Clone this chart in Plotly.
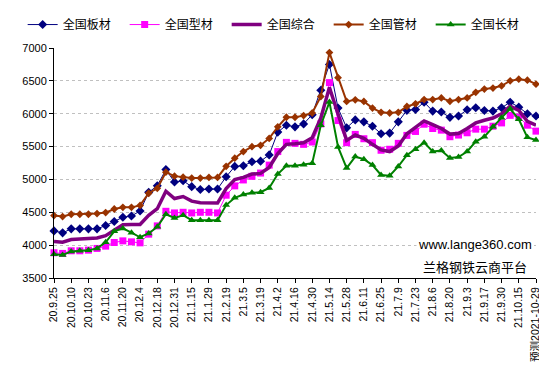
import plotly.graph_objects as go

dates = ["20.9.25", "20.10.2", "20.10.10", "20.10.16", "20.10.23", "20.10.30", "20.11.6", "20.11.13",
         "20.11.20", "20.11.27", "20.12.4", "20.12.11", "20.12.18", "20.12.25", "20.12.31", "21.1.8",
         "21.1.15", "21.1.22", "21.1.29", "21.2.5", "21.2.19", "21.2.26", "21.3.5", "21.3.12",
         "21.3.19", "21.3.26", "21.4.2", "21.4.9", "21.4.16", "21.4.23", "21.4.30", "21.5.7",
         "21.5.14", "21.5.21", "21.5.28", "21.6.4", "21.6.11", "21.6.18", "21.6.25", "21.7.2",
         "21.7.9", "21.7.16", "21.7.23", "21.7.30", "21.8.6", "21.8.13", "21.8.20", "21.8.27",
         "21.9.3", "21.9.10", "21.9.17", "21.9.24", "21.9.30", "21.10.9", "21.10.15", "21.10.22",
         "预测2021-10-29"]

ban = [4217, 4187, 4248, 4248, 4248, 4248, 4298, 4359, 4424, 4444, 4520, 4803, 4904, 5150, 4960,
       4980, 4890, 4846, 4855, 4855, 5040, 5198, 5208, 5268, 5278, 5373, 5720, 5825, 5800, 5845,
       5986, 6358, 6750, 6086, 5785, 5906, 5876, 5810, 5695, 5705, 5876, 6051, 6065, 6175, 6040,
       6025, 5945, 5965, 6060, 6090, 6050, 6040, 6090, 6175, 6100, 6000, 5965]
xing = [3884, 3874, 3914, 3914, 3924, 3950, 3985, 4040, 4065, 4050, 4035, 4167, 4293, 4515, 4490,
        4500, 4490, 4500, 4500, 4490, 4760, 4902, 4992, 5047, 5097, 5218, 5424, 5564, 5549, 5534,
        5569, 5845, 6473, 5896, 5559, 5685, 5619, 5559, 5444, 5459, 5549, 5670, 5730, 5840, 5775,
        5750, 5650, 5675, 5710, 5765, 5765, 5810, 5860, 5975, 5950, 5825, 5735]
zonghe = [4055, 4045, 4085, 4090, 4105, 4110, 4145, 4225, 4310, 4315, 4315, 4455, 4555, 4820, 4710,
          4740, 4670, 4645, 4640, 4640, 4860, 4997, 5032, 5082, 5092, 5183, 5394, 5534, 5544, 5559,
          5634, 5936, 6398, 6011, 5594, 5675, 5624, 5534, 5449, 5424, 5509, 5695, 5800, 5890, 5835,
          5775, 5690, 5700, 5775, 5860, 5900, 5935, 6000, 6115, 6050, 5885, 5825]
guan = [4450, 4435, 4470, 4470, 4470, 4480, 4495, 4550, 4575, 4575, 4605, 4790, 4865, 5110, 5050,
        5035, 5020, 5020, 5030, 5030, 5200, 5323, 5424, 5499, 5519, 5624, 5800, 5946, 5946, 5971,
        6011, 6262, 6930, 6548, 6187, 6212, 6187, 6086, 6021, 6011, 6021, 6111, 6150, 6215, 6215,
        6240, 6190, 6215, 6240, 6325, 6375, 6390, 6425, 6500, 6525, 6510, 6450]
chang = [3860, 3850, 3905, 3913, 3923, 3950, 4043, 4210, 4255, 4190, 4120, 4178, 4280, 4470, 4414,
         4455, 4380, 4380, 4380, 4380, 4610, 4721, 4771, 4796, 4806, 4871, 5082, 5208, 5208, 5223,
         5248, 5825, 6177, 5494, 5173, 5348, 5308, 5218, 5067, 5057, 5198, 5368, 5459, 5560, 5425,
         5440, 5325, 5340, 5425, 5575, 5650, 5800, 5940, 6075, 5915, 5640, 5600]

tick_labels = dates[::2]
y_ticks = [3500, 4000, 4500, 5000, 5500, 6000, 6500, 7000]

fig = go.Figure()
fig.add_trace(go.Scatter(x=dates, y=ban, name="全国板材", mode="lines+markers",
                         line=dict(color="#000080", width=1),
                         marker=dict(symbol="diamond", size=7, color="#000080"), cliponaxis=False))
fig.add_trace(go.Scatter(x=dates, y=xing, name="全国型材", mode="lines+markers",
                         line=dict(color="#FF00FF", width=1),
                         marker=dict(symbol="square", size=7, color="#FF00FF"), cliponaxis=False))
fig.add_trace(go.Scatter(x=dates, y=zonghe, name="全国综合", mode="lines",
                         line=dict(color="#800080", width=3.5), cliponaxis=False))
fig.add_trace(go.Scatter(x=dates, y=guan, name="全国管材", mode="lines+markers",
                         line=dict(color="#993300", width=2),
                         marker=dict(symbol="diamond", size=6, color="#993300"), cliponaxis=False))
fig.add_trace(go.Scatter(x=dates, y=chang, name="全国长材", mode="lines+markers",
                         line=dict(color="#008000", width=2),
                         marker=dict(symbol="triangle-up", size=7, color="#008000"), cliponaxis=False))

fig.add_annotation(text="www.lange360.com", xref="paper", yref="paper", x=0.995, y=0.145,
                   xanchor="right", yanchor="middle", showarrow=False, bgcolor="white",
                   font=dict(family="Liberation Sans, Arial", size=13, color="black"))
fig.add_annotation(text="兰格钢铁云商平台", xref="paper", yref="paper", x=0.985, y=0.052,
                   xanchor="right", yanchor="middle", showarrow=False, bgcolor="white",
                   font=dict(family="Noto Sans CJK SC", size=13, color="black"))

fig.update_layout(
    width=547, height=371,
    margin=dict(l=46, r=19, t=40, b=101, autoexpand=False),
    paper_bgcolor="white", plot_bgcolor="white",
    font=dict(family="Liberation Sans, Arial, Noto Sans CJK SC", size=11, color="black"),
    showlegend=True,
    legend=dict(orientation="h", x=-0.065, y=1.165, xanchor="left", yanchor="top",
                entrywidth=57, entrywidthmode="pixels",
                font=dict(family="Noto Sans CJK SC", size=12, color="black"),
                itemclick=False, tracegroupgap=0),
    xaxis=dict(type="category", categoryorder="array", categoryarray=dates,
               range=[0, len(dates) - 1], tickmode="array", tickvals=tick_labels,
               ticktext=tick_labels, tickangle=-90, showgrid=False,
               showline=True, linecolor="black", linewidth=1,
               ticks="outside", ticklen=4, tickcolor="black",
               tickfont=dict(family="Liberation Sans, Arial, Noto Sans CJK SC", size=10.5)),
    yaxis=dict(range=[3500, 7000], tickvals=y_ticks, showgrid=True,
               gridcolor="#c0c0c0", griddash="3px,3px", gridwidth=1,
               showline=True, linecolor="black", linewidth=1,
               ticks="outside", ticklen=4, tickcolor="black", zeroline=False,
               tickfont=dict(family="Liberation Sans, Arial", size=11)),
)

fig.write_html("out.html")
